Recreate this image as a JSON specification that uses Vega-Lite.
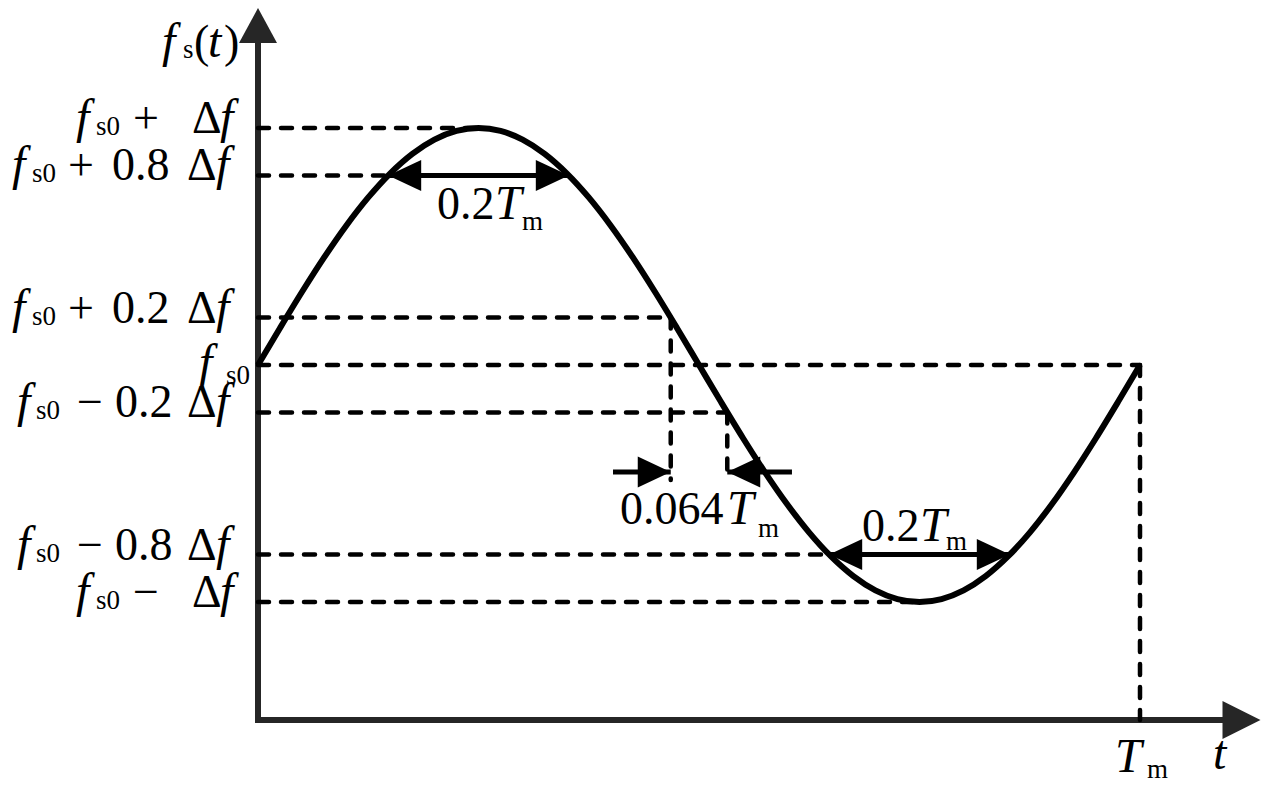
{
  "$schema": "https://vega.github.io/schema/vega-lite/v6.json",
  "width": 1000,
  "height": 710,
  "autosize": {"type": "none"},
  "padding": {"left": 258, "top": 10, "right": 13, "bottom": 77},
  "background": "white",
  "config": {"view": {"stroke": null}},
  "encoding": {
    "x": {"field": "t", "type": "quantitative", "scale": {"domain": [0, 1.13379], "nice": false, "zero": false}, "axis": null},
    "y": {"field": "v", "type": "quantitative", "scale": {"domain": [-1.49789, 1.49789], "nice": false, "zero": false}, "axis": null}
  },
  "layer": [
    {
      "data": {"values": [
        {"t": 0, "t2": 0, "v": -1.4979, "v2": 1.3586},
        {"t": 0, "t2": 1.0941, "v": -1.4979, "v2": -1.4979}
      ]},
      "mark": {"type": "rule", "color": "#262626", "strokeWidth": 6, "strokeCap": "square"},
      "encoding": {"x2": {"field": "t2"}, "y2": {"field": "v2"}}
    },
    {
      "data": {"values": [
        {"t": 0, "t2": 0.25, "v": 1, "v2": 1},
        {"t": 0, "t2": 0.14758, "v": 0.8, "v2": 0.8},
        {"t": 0, "t2": 0.46795, "v": 0.2, "v2": 0.2},
        {"t": 0, "t2": 1, "v": 0, "v2": 0},
        {"t": 0, "t2": 0.53205, "v": -0.2, "v2": -0.2},
        {"t": 0, "t2": 0.64758, "v": -0.8, "v2": -0.8},
        {"t": 0, "t2": 0.75, "v": -1, "v2": -1},
        {"t": 0.46795, "t2": 0.46795, "v": 0.2, "v2": -0.4852},
        {"t": 0.53205, "t2": 0.53205, "v": -0.2, "v2": -0.4852},
        {"t": 1, "t2": 1, "v": 0, "v2": -1.4979}
      ]},
      "mark": {"type": "rule", "color": "black", "strokeWidth": 4.5, "strokeDash": [11, 12], "strokeCap": "round"},
      "encoding": {"x2": {"field": "t2"}, "y2": {"field": "v2"}}
    },
    {
      "data": {"values": [
        {"t": 0, "v": 0}, {"t": 0.025, "v": 0.1564}, {"t": 0.05, "v": 0.309}, {"t": 0.075, "v": 0.454},
        {"t": 0.1, "v": 0.5878}, {"t": 0.125, "v": 0.7071}, {"t": 0.15, "v": 0.809}, {"t": 0.175, "v": 0.891},
        {"t": 0.2, "v": 0.9511}, {"t": 0.225, "v": 0.9877}, {"t": 0.25, "v": 1}, {"t": 0.275, "v": 0.9877},
        {"t": 0.3, "v": 0.9511}, {"t": 0.325, "v": 0.891}, {"t": 0.35, "v": 0.809}, {"t": 0.375, "v": 0.7071},
        {"t": 0.4, "v": 0.5878}, {"t": 0.425, "v": 0.454}, {"t": 0.45, "v": 0.309}, {"t": 0.475, "v": 0.1564},
        {"t": 0.5, "v": 0}, {"t": 0.525, "v": -0.1564}, {"t": 0.55, "v": -0.309}, {"t": 0.575, "v": -0.454},
        {"t": 0.6, "v": -0.5878}, {"t": 0.625, "v": -0.7071}, {"t": 0.65, "v": -0.809}, {"t": 0.675, "v": -0.891},
        {"t": 0.7, "v": -0.9511}, {"t": 0.725, "v": -0.9877}, {"t": 0.75, "v": -1}, {"t": 0.775, "v": -0.9877},
        {"t": 0.8, "v": -0.9511}, {"t": 0.825, "v": -0.891}, {"t": 0.85, "v": -0.809}, {"t": 0.875, "v": -0.7071},
        {"t": 0.9, "v": -0.5878}, {"t": 0.925, "v": -0.454}, {"t": 0.95, "v": -0.309}, {"t": 0.975, "v": -0.1564},
        {"t": 1, "v": 0}
      ]},
      "mark": {"type": "line", "color": "black", "strokeWidth": 6, "interpolate": "monotone"}
    },
    {
      "data": {"values": [
        {"t": 0.14758, "t2": 0.35242, "v": 0.8, "v2": 0.8},
        {"t": 0.64758, "t2": 0.85242, "v": -0.8, "v2": -0.8},
        {"t": 0.4025, "t2": 0.46795, "v": -0.4515, "v2": -0.4515},
        {"t": 0.53205, "t2": 0.6054, "v": -0.4515, "v2": -0.4515}
      ]},
      "mark": {"type": "rule", "color": "black", "strokeWidth": 5},
      "encoding": {"x2": {"field": "t2"}, "y2": {"field": "v2"}}
    },
    {
      "data": {"values": [
        {"t": 0.14758, "v": 0.8},
        {"t": 0.64758, "v": -0.8},
        {"t": 0.53205, "v": -0.4515}
      ]},
      "mark": {"type": "point", "shape": "M0,0L2,-0.94L2,0.94Z", "size": 1089, "filled": true, "color": "black", "opacity": 1, "strokeWidth": 0}
    },
    {
      "data": {"values": [
        {"t": 0.35242, "v": 0.8},
        {"t": 0.85242, "v": -0.8},
        {"t": 0.46795, "v": -0.4515}
      ]},
      "mark": {"type": "point", "shape": "M0,0L-2,-0.94L-2,0.94Z", "size": 1089, "filled": true, "color": "black", "opacity": 1, "strokeWidth": 0}
    },
    {
      "data": {"values": [{"t": 0, "v": 1.4325}]},
      "mark": {"type": "point", "shape": "M0,-0.92L1,0.92L-1,0.92Z", "size": 1444, "filled": true, "color": "#262626", "opacity": 1, "strokeWidth": 0}
    },
    {
      "data": {"values": [{"t": 1.1151, "v": -1.4979}]},
      "mark": {"type": "point", "shape": "M-1,-1L1,0L-1,1Z", "size": 1444, "filled": true, "color": "#262626", "opacity": 1, "strokeWidth": 0}
    },
    {
      "data": {"values": [
        {"t": -0.2154, "v": 0.7789, "s": "+"}, {"t": -0.1655, "v": 0.7789, "s": "0.8"}, {"t": -0.0805, "v": 0.7789, "s": "Δ"},
        {"t": -0.2154, "v": 0.1789, "s": "+"}, {"t": -0.1655, "v": 0.1789, "s": "0.2"}, {"t": -0.0805, "v": 0.1789, "s": "Δ"},
        {"t": -0.1417, "v": 0.9789, "s": "+"}, {"t": -0.0748, "v": 0.9789, "s": "Δ"},
        {"t": -0.2052, "v": -0.2211, "s": "−"}, {"t": -0.1621, "v": -0.2211, "s": "0.2"}, {"t": -0.0805, "v": -0.2211, "s": "Δ"},
        {"t": -0.2052, "v": -0.8211, "s": "−"}, {"t": -0.1621, "v": -0.8211, "s": "0.8"}, {"t": -0.0805, "v": -0.8211, "s": "Δ"},
        {"t": -0.1417, "v": -1.0211, "s": "−"}, {"t": -0.0748, "v": -1.0211, "s": "Δ"},
        {"t": -0.0726, "v": 1.2996, "s": "("}, {"t": -0.0385, "v": 1.2996, "s": ")"},
        {"t": 0.2029, "v": 0.616, "s": "0.2"},
        {"t": 0.4104, "v": -0.6709, "s": "0.064"},
        {"t": 0.6848, "v": -0.7426, "s": "0.2"}
      ]},
      "mark": {"type": "text", "font": "Liberation Serif", "fontSize": 46, "align": "left", "baseline": "alphabetic", "color": "black"},
      "encoding": {"text": {"field": "s"}}
    },
    {
      "data": {"values": [
        {"t": -0.2789, "v": 0.7789, "s": "f"}, {"t": -0.0476, "v": 0.7789, "s": "f"},
        {"t": -0.2789, "v": 0.1789, "s": "f"}, {"t": -0.0476, "v": 0.1789, "s": "f"},
        {"t": -0.2063, "v": 0.9789, "s": "f"}, {"t": -0.0431, "v": 0.9789, "s": "f"},
        {"t": -0.2732, "v": -0.2211, "s": "f"}, {"t": -0.0476, "v": -0.2211, "s": "f"},
        {"t": -0.2732, "v": -0.8211, "s": "f"}, {"t": -0.0476, "v": -0.8211, "s": "f"},
        {"t": -0.2063, "v": -1.0211, "s": "f"}, {"t": -0.0431, "v": -1.0211, "s": "f"},
        {"t": -0.0669, "v": -0.0549, "s": "f"},
        {"t": -0.1088, "v": 1.2996, "s": "f"}, {"t": -0.0567, "v": 1.2996, "s": "t"},
        {"t": 0.2687, "v": 0.616, "s": "T"},
        {"t": 0.5317, "v": -0.6709, "s": "T"},
        {"t": 0.7506, "v": -0.7426, "s": "T"},
        {"t": 0.9717, "v": -1.7173, "s": "T"},
        {"t": 1.0828, "v": -1.7046, "s": "t"}
      ]},
      "mark": {"type": "text", "font": "Liberation Serif", "fontStyle": "italic", "fontSize": 48, "align": "left", "baseline": "alphabetic", "color": "black"},
      "encoding": {"text": {"field": "s"}}
    },
    {
      "data": {"values": [
        {"t": -0.2562, "v": 0.7705, "s": "s0"},
        {"t": -0.2562, "v": 0.1705, "s": "s0"},
        {"t": -0.1837, "v": 0.9705, "s": "s0"},
        {"t": -0.2517, "v": -0.2295, "s": "s0"},
        {"t": -0.2517, "v": -0.8295, "s": "s0"},
        {"t": -0.1837, "v": -1.0295, "s": "s0"},
        {"t": -0.0363, "v": -0.0802, "s": "s0"},
        {"t": -0.085, "v": 1.2954, "s": "s"},
        {"t": 0.2993, "v": 0.5696, "s": "m"},
        {"t": 0.5669, "v": -0.7257, "s": "m"},
        {"t": 0.78, "v": -0.7806, "s": "m"},
        {"t": 1.0079, "v": -1.7426, "s": "m"}
      ]},
      "mark": {"type": "text", "font": "Liberation Serif", "fontSize": 27, "align": "left", "baseline": "alphabetic", "color": "black"},
      "encoding": {"text": {"field": "s"}}
    }
  ]
}
